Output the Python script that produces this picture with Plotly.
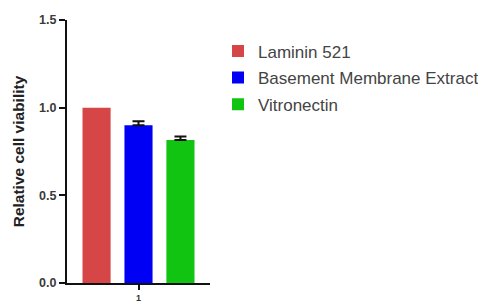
import plotly.graph_objects as go

categories = ["1"]
series_names = ["Laminin 521", "Basement Membrane Extract", "Vitronectin"]
series_values = [[1.0], [0.90], [0.815]]
series_errors = [[0.0], [0.022], [0.02]]
colors = ["#d64646", "#0000f5", "#12c412"]

fig = go.Figure()
for name, vals, errs, col in zip(series_names, series_values, series_errors, colors):
    fig.add_trace(go.Bar(
        x=categories, y=vals, name=name, legendgroup=name,
        marker=dict(color=col, line=dict(width=0)),
        error_y=dict(type="data", array=errs, arrayminus=[0] * len(errs), symmetric=False,
                     color="#111111", thickness=2, width=6, visible=max(errs) > 0),
    ))

# the page body adds an 8px offset, so margins are shifted to compensate
fig.update_layout(
    width=486, height=302,
    margin=dict(l=59, r=284, t=12, b=27, autoexpand=False),
    paper_bgcolor="white", plot_bgcolor="white",
    barmode="group", bargap=0.12, bargroupgap=0.33,
    font=dict(family="Liberation Sans, Arial, sans-serif", color="#333333"),
    showlegend=True,
    legend=dict(x=1.056, xanchor="left", y=0.949, yanchor="top",
                font=dict(size=17, color="#444444"), tracegroupgap=1.5,
                bgcolor="rgba(0,0,0,0)"),
    yaxis=dict(range=[0, 1.5], tickvals=[0, 0.5, 1.0, 1.5], ticktext=["<b>0.0</b>", "<b>0.5</b>", "<b>1.0</b>", "<b>1.5</b>"],
               showline=True, linecolor="#111111", linewidth=2, ticks="outside", ticklen=6,
               tickwidth=2, tickcolor="#111111", showgrid=False, zeroline=False, automargin=False,
               tickfont=dict(size=12.5, color="#3a3a3a", family="Liberation Sans, Arial, sans-serif"),
               title=dict(text="<b>Relative cell viability</b>", font=dict(size=15.5, color="#222222"),
                          standoff=11)),
    xaxis=dict(showline=True, linecolor="#111111", linewidth=2, ticks="outside", ticklen=5,
               tickwidth=2, tickcolor="#111111", showgrid=False, zeroline=False, automargin=False,
               tickvals=categories, ticktext=["<b>1</b>"],
               tickfont=dict(size=9, color="#333333")),
)

fig.write_html("out.html")
